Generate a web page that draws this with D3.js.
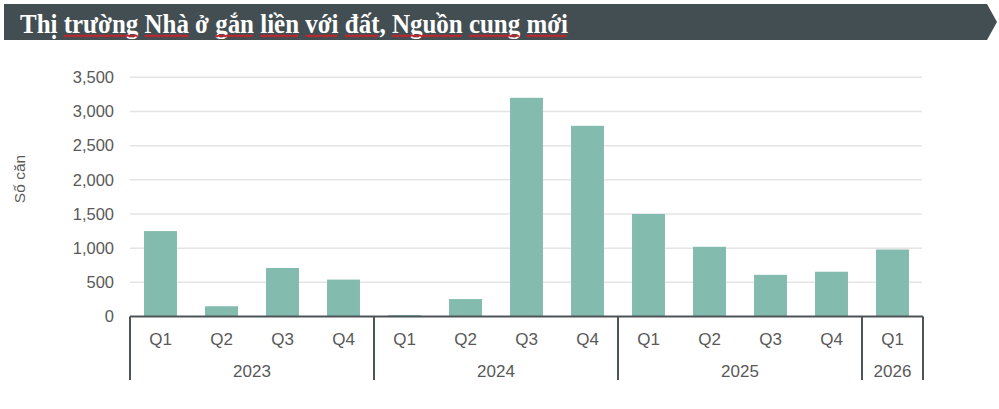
<!DOCTYPE html>
<html>
<head>
<meta charset="utf-8">
<script src="https://cdn.jsdelivr.net/npm/d3@7"></script>
<style>
  body { margin: 0; background: #fff; }
  svg { display: block; }
</style>
</head>
<body>
<svg id="chart" width="999" height="409"></svg>
<script>
// data
var years    = ["2023","2023","2023","2023","2024","2024","2024","2024","2025","2025","2025","2025","2026"]
var quarters = ["Q1","Q2","Q3","Q4","Q1","Q2","Q3","Q4","Q1","Q2","Q3","Q4","Q1"]
var supply   = [1250, 150, 710, 540, 20, 255, 3200, 2790, 1500, 1020, 610, 655, 980]
var yTicks   = [0, 500, 1000, 1500, 2000, 2500, 3000, 3500]
var title    = "Thị trường Nhà ở gắn liền với đất, Nguồn cung mới"
var flagged  = ["trường","Nhà","gắn","liền","với","đất","Nguồn","cung","mới"]
var yTitle   = "Số căn"

var svg = d3.select("#chart")
var plotLeft = 130, plotRight = 923, plotTop = 77.3, plotBottom = 316.5
var grey = "#595959", axisCol = "#4d5456"

// ---- title banner
svg.append("path")
  .attr("d", "M4,4 L987,4 L997,22 L987,40 L4,40 Z")
  .attr("fill", "#434e52")

var t = svg.append("text")
  .attr("x", 20).attr("y", 32.5)
  .attr("font-family", "'Liberation Serif', 'Times New Roman', serif")
  .attr("font-weight", "bold")
  .attr("font-size", 28)
  .attr("textLength", 548)
  .attr("lengthAdjust", "spacingAndGlyphs")
  .attr("fill", "#fff")
  .text(title)

// the spell-check squiggles under some words
var node = t.node()
var from = 0
flagged.forEach(function(w) {
  var i = title.indexOf(w, from)
  from = i + w.length
  var x0 = node.getStartPositionOfChar(i).x
  var x1 = node.getEndPositionOfChar(i + w.length - 1).x
  var pts = []
  for (var px = x0, k = 0; px <= x1; px += 2, k++) pts.push([px, 35.6 + (k % 2 ? 0.9 : -0.4)])
  svg.append("path")
    .attr("d", d3.line()(pts))
    .attr("fill", "none")
    .attr("stroke", "#c0262c")
    .attr("stroke-width", 1.8)
})

// ---- scales
var idx = supply.map(function(d, i) { return i })
var x = d3.scaleBand().domain(idx).range([plotLeft, plotRight]).paddingInner(0.46).paddingOuter(0.23)
var y = d3.scaleLinear().domain([0, 3500]).range([plotBottom, plotTop])

// gridlines
svg.append("g").selectAll("line")
  .data(yTicks.slice(1))
  .join("line")
  .attr("x1", plotLeft).attr("x2", plotRight - 1)
  .attr("y1", function(d) { return y(d) }).attr("y2", function(d) { return y(d) })
  .attr("stroke", "#e4e4e4")
  .attr("stroke-width", 1.5)

// y axis labels
var yAxis = svg.append("g")
  .attr("transform", "translate(" + plotLeft + ",0)")
  .call(d3.axisLeft(y).tickValues(yTicks).tickFormat(d3.format(",")).tickSize(0).tickPadding(16))
yAxis.select(".domain").remove()
yAxis.selectAll("text")
  .attr("fill", grey)
  .attr("font-family", "'Liberation Sans', Arial, sans-serif")
  .attr("font-size", 16.5)

svg.append("text")
  .attr("transform", "translate(25,179) rotate(-90)")
  .attr("text-anchor", "middle")
  .attr("font-family", "'Liberation Sans', Arial, sans-serif")
  .attr("font-size", 15.5)
  .attr("fill", grey)
  .text(yTitle)

// bars
svg.append("g").selectAll("rect")
  .data(supply)
  .join("rect")
  .attr("x", function(d, i) { return x(i) })
  .attr("width", x.bandwidth())
  .attr("y", function(d) { return y(d) })
  .attr("height", function(d) { return y(0) - y(d) })
  .attr("fill", "#83bcae")

// baseline
svg.append("line")
  .attr("x1", plotLeft).attr("x2", plotRight)
  .attr("y1", y(0)).attr("y2", y(0))
  .attr("stroke", axisCol).attr("stroke-width", 2)

// quarter labels
svg.append("g").selectAll("text")
  .data(quarters)
  .join("text")
  .attr("x", function(d, i) { return x(i) + x.bandwidth() / 2 })
  .attr("y", 344.5)
  .attr("text-anchor", "middle")
  .attr("font-family", "'Liberation Sans', Arial, sans-serif")
  .attr("font-size", 17)
  .attr("fill", grey)
  .text(function(d) { return d })

// year groups
var groups = []
years.forEach(function(yr, i) {
  var g = groups[groups.length - 1]
  if (g && g.year == yr) g.end = i
  else groups.push({year: yr, start: i, end: i})
})
var step = x.step()
var edge = function(i) { return plotLeft + i * step }

var sep = [0].concat(groups.map(function(g) { return g.end + 1 }))
svg.append("g").selectAll("line")
  .data(sep)
  .join("line")
  .attr("x1", function(d) { return edge(d) }).attr("x2", function(d) { return edge(d) })
  .attr("y1", y(0)).attr("y2", 380)
  .attr("stroke", axisCol).attr("stroke-width", 2)

svg.append("g").selectAll("text")
  .data(groups)
  .join("text")
  .attr("x", function(g) { return (edge(g.start) + edge(g.end + 1)) / 2 })
  .attr("y", 377)
  .attr("text-anchor", "middle")
  .attr("font-family", "'Liberation Sans', Arial, sans-serif")
  .attr("font-size", 17)
  .attr("fill", grey)
  .text(function(g) { return g.year })
</script>
</body>
</html>
